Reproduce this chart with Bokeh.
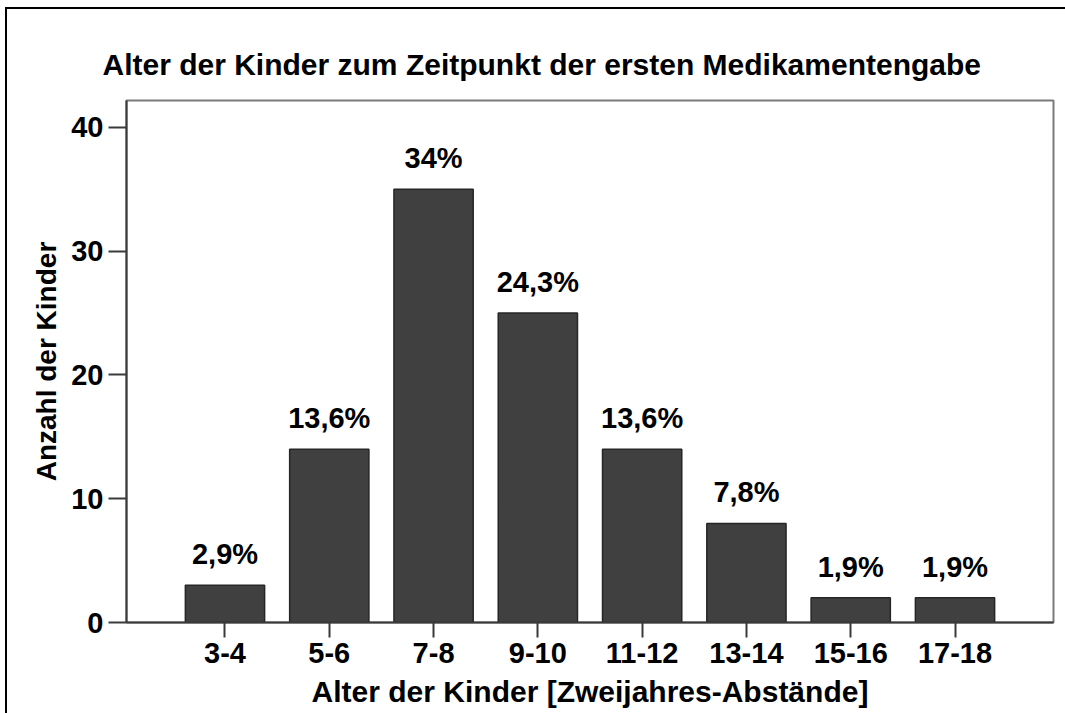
from bokeh.plotting import figure
from bokeh.models import ColumnDataSource, FactorRange, Range1d, FixedTicker
from bokeh.embed import file_html
from bokeh.resources import INLINE
from bokeh.core.properties import value

categories = ["3-4", "5-6", "7-8", "9-10", "11-12", "13-14", "15-16", "17-18"]
counts = [3, 14, 35, 25, 14, 8, 2, 2]
percent_labels = ["2,9%", "13,6%", "34%", "24,3%", "13,6%", "7,8%", "1,9%", "1,9%"]
y_ticks = [0, 10, 20, 30, 40]

FONT = "Liberation Sans"

source = ColumnDataSource(data=dict(cat=categories, count=counts, label=percent_labels))

p = figure(
    x_range=FactorRange(*categories, range_padding=0.1111),
    y_range=Range1d(0, 42.18),
    frame_width=927, frame_height=522,
    min_border_left=119, min_border_right=12,
    min_border_top=91, min_border_bottom=91,
    output_backend="svg", toolbar_location=None,
    title="Alter der Kinder zum Zeitpunkt der ersten Medikamentengabe",
)
p.styles = {"border-left": "2px solid black", "border-top": "2px solid black",
            "margin-left": "5px", "margin-top": "7px"}

p.title.text_font = FONT
p.title.text_font_size = "30px"
p.title.text_font_style = "bold"
p.title.text_color = "black"
p.title.align = "left"
p.title.offset = -24
p.title.standoff = 39

p.vbar(x="cat", top="count", width=0.76, source=source,
       fill_color="#404040", line_color="#262626", line_width=1.5)

p.text(x="cat", y="count", text="label", source=source,
       text_font=value(FONT), text_font_size="29px", text_font_style="bold",
       text_color="black", text_align="center", text_baseline="alphabetic",
       y_offset=-31)

p.xgrid.visible = False
p.ygrid.visible = False
p.outline_line_color = "#7a7a7a"
p.outline_line_width = 2
p.background_fill_color = "white"
p.border_fill_color = "white"

p.yaxis.ticker = FixedTicker(ticks=y_ticks)
p.yaxis.minor_tick_line_color = None
p.yaxis.major_tick_out = 18
p.yaxis.major_tick_in = 0
p.xaxis.major_tick_out = 15
p.xaxis.major_tick_in = 0

for ax in (p.xaxis, p.yaxis):
    ax.axis_line_color = "#3a3a3a"
    ax.axis_line_width = 2
    ax.major_tick_line_color = "#3a3a3a"
    ax.major_tick_line_width = 2
    ax.major_label_text_font = FONT
    ax.major_label_text_font_size = "29px"
    ax.major_label_text_font_style = "bold"
    ax.major_label_text_color = "black"
    ax.axis_label_text_font = FONT
    ax.axis_label_text_font_style = "bold"
    ax.axis_label_text_color = "black"

p.xaxis.axis_label_text_font_size = "30px"
p.yaxis.axis_label_text_font_size = "28px"
p.yaxis.major_label_standoff = 5
p.xaxis.major_label_standoff = 5
p.xaxis.axis_label = "Alter der Kinder [Zweijahres-Abstände]"
p.yaxis.axis_label = "Anzahl der Kinder"
p.xaxis.axis_label_standoff = 9
p.yaxis.axis_label_standoff = 6

open("out.html", "w").write(file_html(p, INLINE))
